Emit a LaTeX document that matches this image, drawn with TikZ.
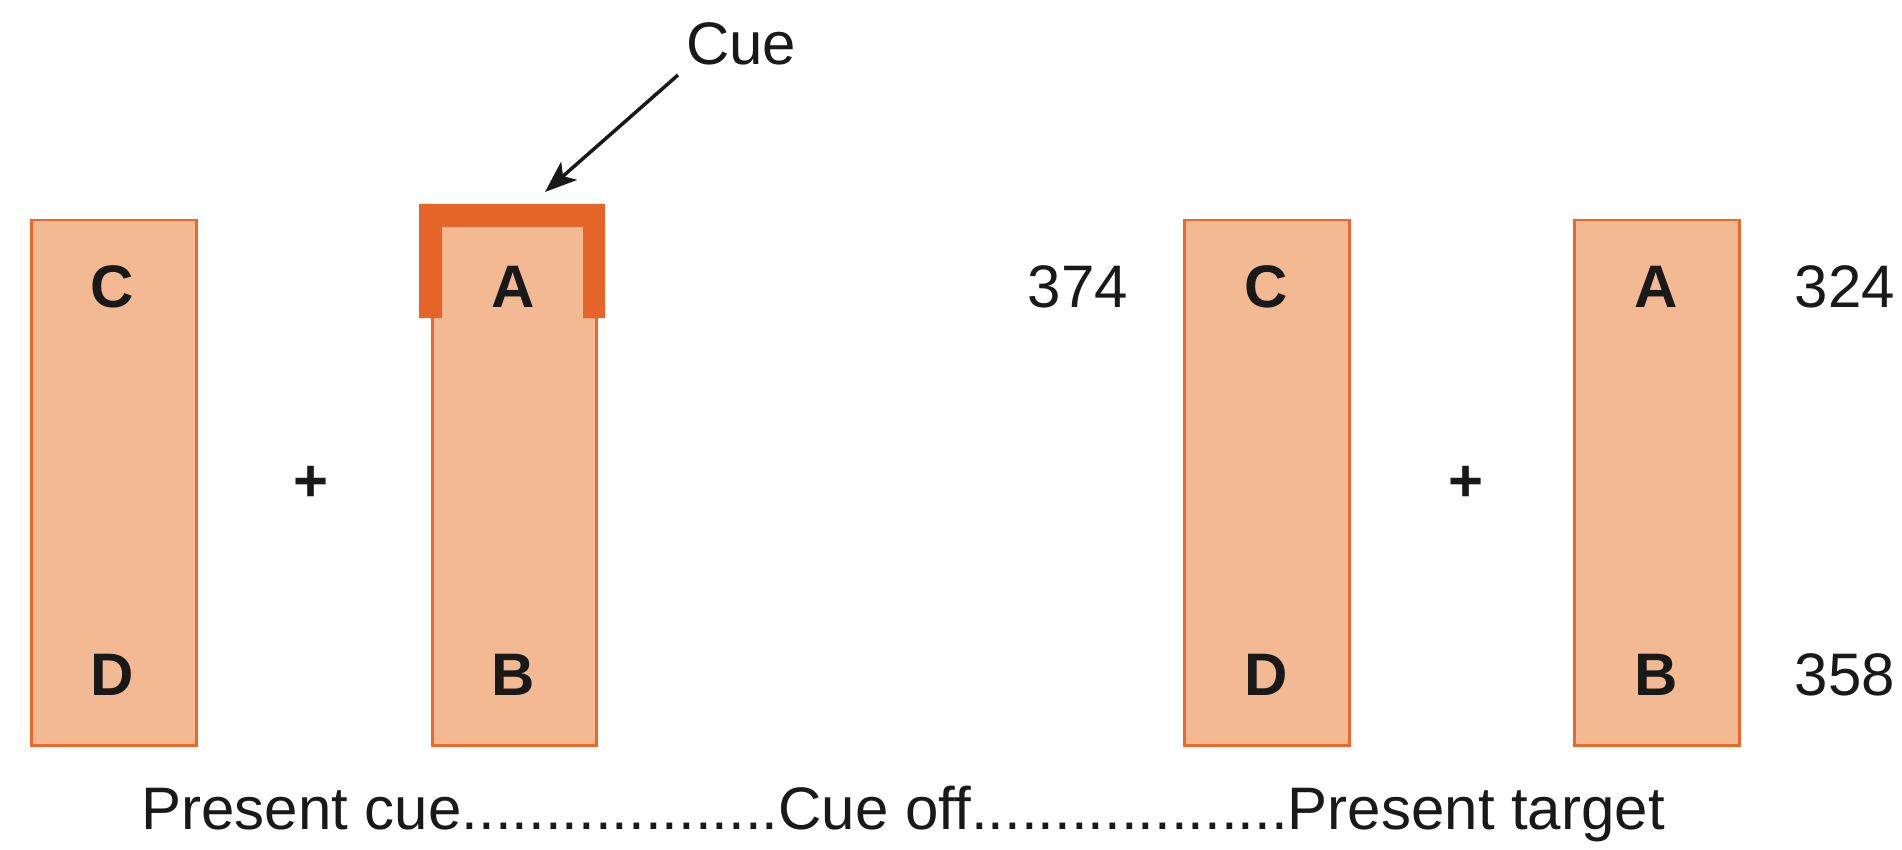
\documentclass[tikz,border=0pt]{standalone}
\usepackage{fontspec}
\setmainfont{Liberation Sans}
\usetikzlibrary{arrows.meta}
\definecolor{barfill}{RGB}{242,185,147}
\definecolor{barline}{RGB}{234,104,44}
\definecolor{cueorange}{RGB}{229,101,40}
\definecolor{ink}{RGB}{25,25,25}
\tikzset{
  bar/.style={draw=barline, line width=2.5pt, fill=barfill, rectangle,
    minimum width=165pt, minimum height=525pt, inner sep=0pt, anchor=north west},
  letter/.style={font=\fontsize{60}{72}\selectfont\bfseries, text=ink, inner sep=0pt, anchor=base},
  plain/.style={font=\fontsize{60}{72}\selectfont, text=ink, inner sep=0pt, anchor=base},
  plus/.style={font=\fontsize{60}{72}\selectfont\bfseries, text=ink, inner sep=0pt},
  pointer/.style={draw=ink, line width=3.5pt, -{Stealth[length=32pt, width=24pt, inset=8pt]}}
}
\begin{document}
\begin{tikzpicture}[x=1pt, y=-1pt]
\useasboundingbox (0,0) rectangle (1902,850);

% four vertical bars
\node[bar] (bar1) at (30,219) {};
\node[bar, minimum width=164pt] (bar2) at (431,219) {};
\node[bar] (bar3) at (1183,219) {};
\node[bar] (bar4) at (1573,219) {};

% cue bracket over the top of the second bar
\fill[cueorange] (419,204) -- (605,204) -- (605,318) -- (583,318) -- (583,227)
  -- (442,227) -- (442,318) -- (419,318) -- cycle;

% letters in the bars
\node[letter] (c1) at (112.5,307) {C};
\node[letter] (d1) at (112.5,695) {D};
\node[letter] (a1) at (513,307) {A};
\node[letter] (b1) at (513,695) {B};
\node[letter] (c2) at (1266,307) {C};
\node[letter] (d2) at (1266,695) {D};
\node[letter] (a2) at (1656,307) {A};
\node[letter] (b2) at (1656,695) {B};

% plus signs
\node[plus] (plus1) at (311,484) {+};
\node[plus] (plus2) at (1466,484) {+};

% reaction times
\node[plain] (t374) at (1078,307) {374};
\node[plain] (t324) at (1845,307) {324};
\node[plain] (t358) at (1845,695) {358};

% cue label and its arrow
\node[plain, anchor=base west] (cue) at (686,65) {Cue};
\coordinate (cuetail) at (678,75);
\coordinate (cuetip) at (545,192);
\draw[pointer] (cuetail) -- (cuetip);

% time line
\node[plain] (timeline) at (903,829)
  {Present cue...................Cue off...................Present target};
\end{tikzpicture}
\end{document}
